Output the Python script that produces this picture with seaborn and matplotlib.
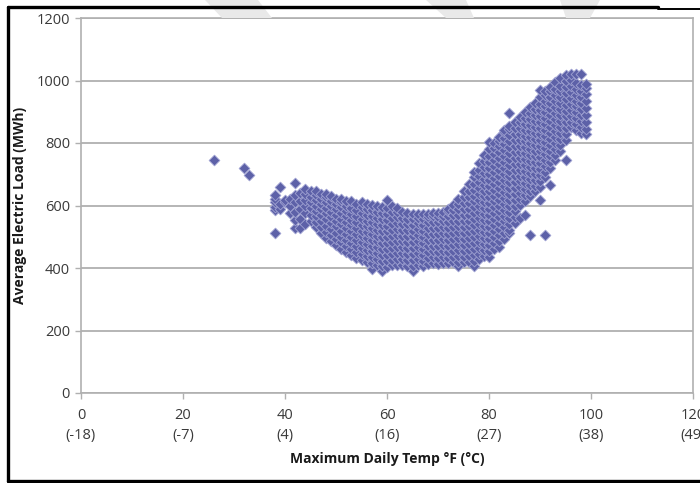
import pandas as pd
import seaborn as sns
import matplotlib.pyplot as plt
from matplotlib.lines import Line2D
from matplotlib.patches import Polygon

# Readings: one list of loads (MWh) per max daily temp (F)
temp_cols = [26, 32, 33, 38, 39, 40, 41, 42, 43, 44, 45, 46, 47, 48, 49, 50,
             51, 52, 53, 54, 55, 56, 57, 58, 59, 60, 61, 62, 63, 64, 65, 66,
             67, 68, 69, 70, 71, 72, 73, 74, 75, 76, 77, 78, 79, 80, 81, 82,
             83, 84, 85, 86, 87, 88, 89, 90, 91, 92, 93, 94, 95, 96, 97, 98, 99]
loads_per_col = [
    [745],
    [720],
    [697],
    [512, 586, 596, 611, 622, 634],
    [590, 605, 659],
    [611, 618],
    [575, 600, 620],
    [528, 553, 578, 611, 634, 672],
    [528, 556, 590, 615, 640],
    [540, 575, 600, 618, 636, 652],
    [552, 570, 592, 610, 628, 645],
    [530, 548, 566, 584, 600, 617, 633, 648],
    [512, 530, 551, 570, 588, 604, 620, 638],
    [496, 515, 535, 556, 575, 592, 610, 626, 636],
    [485, 505, 524, 543, 562, 580, 598, 614, 631],
    [474, 494, 513, 533, 552, 570, 588, 605, 622],
    [462, 482, 500, 520, 540, 558, 576, 594, 610, 622],
    [450, 470, 490, 509, 528, 546, 565, 582, 600, 616],
    [441, 460, 480, 499, 518, 537, 555, 574, 592, 613],
    [432, 452, 471, 490, 509, 528, 547, 566, 585, 605],
    [425, 444, 463, 482, 501, 520, 539, 558, 577, 596, 610],
    [419, 438, 457, 476, 495, 514, 533, 552, 571, 590, 606],
    [398, 415, 434, 453, 472, 491, 510, 529, 548, 567, 586, 603],
    [410, 428, 447, 466, 485, 504, 523, 542, 561, 580, 598],
    [391, 406, 424, 443, 462, 481, 500, 519, 538, 557, 576, 595],
    [404, 422, 441, 460, 479, 498, 517, 536, 555, 574, 593, 618],
    [409, 427, 446, 465, 484, 503, 522, 541, 560, 579, 598],
    [411, 429, 448, 467, 486, 505, 524, 543, 562, 580, 592],
    [410, 428, 447, 466, 485, 504, 523, 542, 561, 579],
    [408, 426, 445, 464, 483, 502, 521, 540, 558, 576],
    [390, 406, 425, 444, 463, 482, 501, 520, 539, 557, 574],
    [411, 429, 448, 467, 486, 505, 524, 543, 560, 572],
    [406, 424, 443, 462, 481, 500, 519, 538, 556, 573],
    [414, 432, 451, 470, 489, 508, 527, 546, 562, 574],
    [416, 434, 453, 472, 491, 510, 529, 548, 565, 576],
    [414, 432, 451, 470, 489, 508, 527, 546, 562, 576],
    [417, 435, 454, 473, 492, 511, 530, 549, 566, 580],
    [415, 433, 452, 471, 490, 509, 528, 547, 566, 582, 590],
    [418, 436, 455, 474, 493, 512, 531, 550, 569, 587, 602],
    [406, 420, 438, 457, 476, 495, 514, 533, 552, 571, 590, 606, 620],
    [418, 436, 455, 474, 493, 512, 531, 550, 569, 588, 607, 626, 645],
    [420, 438, 457, 476, 495, 514, 533, 552, 571, 590, 609, 628, 647, 668],
    [406, 424, 442, 461, 480, 499, 518, 537, 556, 575, 594, 613, 632, 651,
     670, 690, 708],
    [428, 446, 465, 484, 503, 522, 541, 560, 579, 598, 617, 636, 655, 674,
     693, 714, 736],
    [440, 458, 477, 496, 515, 534, 553, 572, 591, 610, 629, 648, 667, 686,
     705, 724, 744, 762],
    [435, 456, 474, 493, 512, 531, 550, 569, 588, 607, 626, 645, 664, 683,
     702, 721, 740, 760, 780, 803],
    [462, 480, 499, 518, 537, 556, 575, 594, 613, 632, 651, 670, 689, 708,
     727, 746, 765, 784, 800],
    [468, 486, 505, 524, 543, 562, 581, 600, 619, 638, 657, 676, 695, 714,
     733, 752, 771, 790, 808, 820],
    [492, 512, 530, 549, 568, 587, 606, 625, 644, 663, 682, 701, 720, 739,
     758, 777, 796, 815, 834, 842],
    [512, 522, 541, 560, 579, 598, 617, 636, 655, 674, 693, 712, 731, 750,
     769, 788, 807, 826, 845, 856, 896],
    [545, 562, 581, 600, 619, 638, 657, 676, 695, 714, 733, 752, 771, 790,
     809, 828, 847, 866],
    [560, 602, 620, 639, 658, 677, 696, 715, 734, 753, 772, 791, 810, 829,
     848, 867, 884],
    [570, 615, 634, 653, 672, 691, 710, 729, 748, 767, 786, 805, 824, 843,
     862, 881, 900],
    [506, 630, 648, 667, 686, 705, 724, 743, 762, 781, 800, 819, 838, 857,
     876, 895, 914],
    [645, 662, 681, 700, 719, 738, 757, 776, 795, 814, 833, 852, 871, 890,
     909, 928],
    [618, 660, 678, 697, 716, 735, 754, 773, 792, 811, 830, 849, 868, 887,
     906, 925, 946, 970],
    [506, 690, 708, 727, 746, 765, 784, 803, 822, 841, 860, 879, 898, 917,
     936, 955, 965],
    [666, 720, 738, 757, 776, 795, 814, 833, 852, 871, 890, 909, 928, 947,
     966, 980],
    [745, 763, 782, 801, 820, 839, 858, 877, 896, 915, 934, 953, 972, 994],
    [776, 794, 813, 832, 851, 870, 889, 908, 927, 946, 965, 984, 1008],
    [746, 810, 828, 847, 866, 885, 904, 923, 942, 961, 980, 999, 1018],
    [850, 868, 887, 906, 925, 944, 963, 982, 1001, 1020],
    [842, 860, 879, 898, 917, 936, 955, 974, 993, 1020],
    [833, 852, 871, 890, 909, 928, 947, 966, 985, 1020],
    [830, 846, 868, 890, 912, 934, 956, 975, 990],
]

x_ticks = [0, 20, 40, 60, 80, 100, 120]
x_tick_labels = ["0\n(-18)", "20\n(-7)", "40\n(4)", "60\n(16)",
                 "80\n(27)", "100\n(38)", "120\n(49)"]
y_ticks = [0, 200, 400, 600, 800, 1000, 1200]

rows = []
for t, loads in zip(temp_cols, loads_per_col):
    for v in loads:
        rows.append((t, v))
df = pd.DataFrame(rows, columns=["temp_f", "load_mwh"])

sns.set_theme(style="white")
plt.rcParams['font.family'] = ['Open Sans', 'DejaVu Sans']

fig = plt.figure(figsize=(7, 4.83), dpi=100)
W, H = 700, 483

# faint watermark bands behind the chart
for pts in ([(205, 0), (258, 0), (272, 18), (222, 18)],
            [(426, 0), (466, 0), (474, 18), (446, 18)],
            [(560, 0), (600, 0), (590, 18), (566, 18)]):
    fig.patches.append(Polygon([(x / W, 1 - y / H) for x, y in pts], closed=True,
                               transform=fig.transFigure, facecolor='#e9e9e9',
                               edgecolor='none', zorder=0))

ax = fig.add_axes([81 / W, 90 / H, 612 / W, 375 / H])
ax.set_facecolor('white')

sns.scatterplot(data=df, x="temp_f", y="load_mwh", marker="D", s=30,
                color='#5d61a8', edgecolor='#9fa2d2', linewidth=0.6, ax=ax,
                zorder=3, legend=False)

ax.set_xlim(0, 120)
ax.set_ylim(0, 1200)
ax.set_xticks(x_ticks)
ax.set_xticklabels(x_tick_labels, linespacing=1.45)
ax.set_yticks(y_ticks)
ax.yaxis.grid(True, color='#b5b5b5', linewidth=1.4, zorder=0)
ax.xaxis.grid(False)
for sp in ax.spines.values():
    sp.set_color('#b0b0b0')
    sp.set_linewidth(1.2)
ax.tick_params(axis='both', direction='out', length=4, width=1,
               color='#b0b0b0', labelsize=10.5, labelcolor='#3a3a3a')
ax.tick_params(axis='x', pad=7)
ax.tick_params(axis='y', pad=4)
ax.tick_params(left=True, bottom=True)

ax.set_xlabel("Maximum Daily Temp \u00b0F (\u00b0C)", fontsize=10,
              fontweight='bold', color='#1a1a1a', labelpad=6)
ax.set_ylabel("Average Electric Load (MWh)", fontsize=10,
              fontweight='bold', color='#1a1a1a', labelpad=7)

# black border of the scanned frame
fig.add_artist(Line2D([8 / W, 658 / W], [1 - 7 / H, 1 - 7 / H], color='black',
                      linewidth=2.4, transform=fig.transFigure))
fig.add_artist(Line2D([658 / W, 1.0], [1 - 9 / H, 1 - 9 / H], color='black',
                      linewidth=1.4, transform=fig.transFigure))
fig.add_artist(Line2D([8 / W, 8 / W], [1 - 7 / H, 1 - 481 / H], color='black',
                      linewidth=2.4, transform=fig.transFigure))
fig.add_artist(Line2D([8 / W, 1.0], [1 - 481 / H, 1 - 481 / H], color='black',
                      linewidth=2.4, transform=fig.transFigure))

fig.savefig("out.png", dpi=100)
plt.close(fig)
